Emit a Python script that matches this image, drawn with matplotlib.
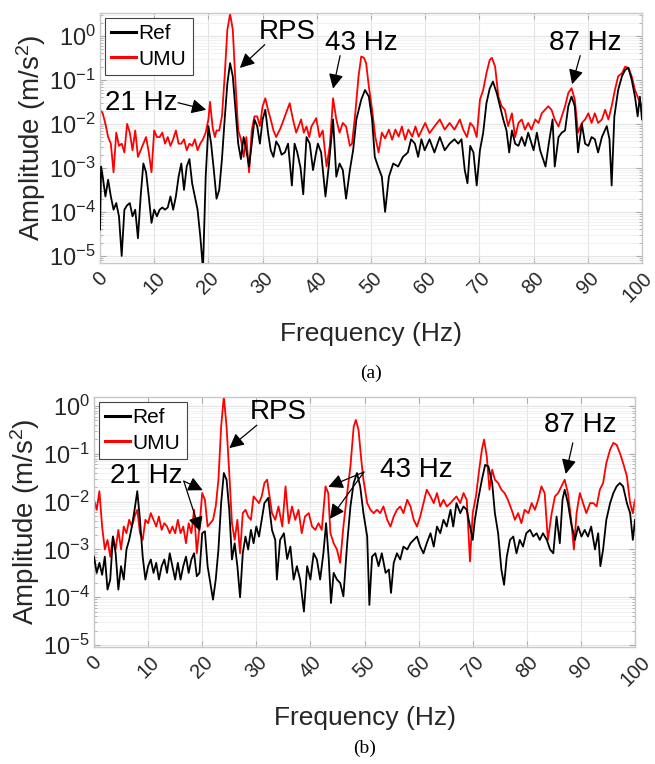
import matplotlib
matplotlib.use("Agg")
import matplotlib.pyplot as plt
import matplotlib.transforms as mtransforms
import numpy as np
from matplotlib.ticker import LogLocator, LogFormatterMathtext, NullFormatter

plt.rcParams['font.family'] = ['Liberation Sans', 'DejaVu Sans']
plt.rcParams['mathtext.fontset'] = 'custom'
plt.rcParams['mathtext.rm'] = 'Liberation Sans'
plt.rcParams['mathtext.it'] = 'Liberation Sans:italic'

# ---------------- (a) ----------------
a_ref_f = [0, 0.2, 0.5, 1, 1.5, 2, 2.5, 3, 3.5, 4, 4.5, 5, 5.5, 6, 6.5, 7, 7.5, 8, 8.5, 9, 9.5, 10, 10.5, 11, 11.5, 12, 12.5, 13, 13.5, 14, 14.5, 15, 15.5, 16, 16.5, 17, 17.5, 18, 18.5, 19, 19.5, 20, 20.5, 21, 21.5, 22, 22.5, 23, 23.5, 24, 24.5, 25, 25.5, 26, 26.5, 27, 27.5, 28, 28.5, 29, 29.5, 30, 30.5, 31, 31.5, 32, 32.5, 33, 33.5, 34.1, 34.7, 35.4, 35.9, 36.4, 37.0, 37.5, 38.1, 38.7, 39.3, 39.8, 40.2, 40.8, 41.6, 42.2, 43.0, 43.6, 44.2, 44.8, 45.4, 46.1, 46.7, 47.3, 48.2, 48.9, 49.6, 50.2, 50.7, 51.3, 52.0, 52.6, 53.3, 54.1, 55.0, 55.9, 56.8, 57.4, 58.1, 58.7, 59.3, 59.9, 60.8, 61.7, 62.7, 63.6, 64.5, 65.4, 66.1, 66.7, 67.3, 67.8, 68.3, 68.9, 69.5, 70.1, 70.7, 71.3, 71.9, 72.5, 73.2, 73.8, 74.4, 75.0, 75.5, 76.0, 76.6, 77.2, 77.8, 78.4, 79.0, 79.5, 80.0, 80.6, 81.2, 81.6, 82.2, 82.8, 83.5, 83.9, 84.6, 85.2, 85.8, 86.4, 87.0, 87.6, 88.2, 88.9, 89.5, 90.1, 90.7, 91.3, 91.9, 92.6, 93.5, 94.0, 94.4, 94.9, 95.6, 96.3, 96.9, 97.5, 98.1, 98.7, 99.2, 99.6, 100]
a_ref_log = [-4.4, -2.97, -3.2, -3.65, -3.27, -3.65, -3.95, -3.8, -4.1, -5.0, -3.95, -3.85, -3.8, -4.1, -3.95, -4.6, -3.65, -2.9, -3.1, -3.65, -4.25, -3.95, -4.1, -3.95, -3.9, -3.95, -3.9, -3.65, -3.95, -3.65, -3.2, -2.9, -3.5, -2.97, -2.8, -3.35, -3.65, -3.95, -4.55, -5.3, -3.2, -2.05, -2.45, -3.05, -3.7, -3.5, -2.8, -1.9, -1.08, -0.62, -0.92, -1.68, -2.45, -2.8, -2.3, -2.6, -2.97, -2.45, -1.9, -2.05, -2.45, -1.9, -1.68, -2.2, -2.6, -2.75, -2.4, -2.5, -2.7, -2.65, -2.45, -3.4, -2.45, -2.65, -3.0, -3.6, -2.3, -2.45, -3.05, -2.7, -2.45, -2.65, -3.65, -2.97, -1.9, -3.2, -2.9, -3.05, -3.7, -3.05, -2.6, -1.9, -1.45, -1.23, -1.38, -1.9, -2.75, -2.97, -3.2, -4.0, -3.2, -2.9, -2.97, -2.75, -2.65, -2.35, -2.45, -2.75, -2.35, -2.6, -2.35, -2.65, -2.3, -2.6, -2.45, -2.35, -2.45, -2.35, -3.05, -3.35, -2.5, -2.65, -3.4, -2.6, -2.2, -1.53, -1.2, -1.04, -1.3, -1.6, -1.9, -2.15, -2.65, -2.15, -2.45, -2.5, -2.3, -2.5, -2.2, -2.4, -2.6, -2.2, -2.6, -2.75, -2.97, -2.45, -1.9, -2.97, -2.3, -2.2, -2.15, -1.6, -1.38, -1.6, -2.65, -2.0, -2.45, -2.5, -2.3, -2.35, -2.65, -2.3, -2.05, -2.35, -3.4, -1.83, -1.23, -0.92, -0.77, -0.73, -1.0, -1.38, -1.83, -1.38, -1.9]

a_umu_f = [0, 0.5, 1, 1.5, 2, 2.5, 3, 3.5, 4, 4.5, 5, 5.5, 6, 6.5, 7, 7.5, 8, 8.5, 9, 9.5, 10, 10.5, 11, 11.5, 12, 12.5, 13, 13.5, 14, 14.5, 15, 15.5, 16, 16.5, 17, 17.5, 18, 18.5, 19, 19.5, 20, 20.3, 20.8, 21.2, 21.5, 22, 22.5, 23, 23.5, 24, 24.5, 25, 25.5, 26, 26.5, 27, 27.5, 28, 28.5, 29, 29.5, 30, 30.5, 31, 31.5, 32, 32.5, 33.3, 34.1, 35.0, 35.6, 36.2, 37.1, 37.6, 38.1, 38.6, 39.0, 39.9, 40.5, 41.1, 41.8, 42.4, 43.0, 43.6, 44.2, 44.8, 45.4, 46.1, 46.5, 47.1, 47.7, 48.2, 48.7, 49.1, 49.6, 50.2, 50.8, 51.4, 52.0, 52.6, 53.3, 53.9, 54.5, 55.1, 55.7, 56.3, 56.9, 57.6, 58.2, 58.8, 59.4, 60.0, 60.8, 61.7, 62.7, 63.6, 64.5, 65.4, 66.4, 67.0, 67.7, 68.3, 68.9, 69.5, 70.1, 70.7, 71.3, 71.9, 72.3, 72.9, 73.5, 74.1, 74.7, 75.3, 76.0, 76.6, 77.2, 77.8, 78.4, 79.0, 79.6, 80.3, 80.9, 81.5, 82.1, 82.7, 83.3, 83.9, 84.6, 85.2, 85.8, 86.4, 87.0, 87.6, 88.2, 88.9, 89.5, 90.1, 90.7, 91.3, 91.9, 92.6, 93.2, 93.8, 94.4, 95.0, 95.6, 96.3, 96.9, 97.5, 98.1, 98.7, 99.4, 100]
a_umu_log = [-1.68, -1.76, -2.0, -2.3, -2.45, -3.1, -2.2, -2.5, -2.45, -2.65, -2.0, -2.2, -2.6, -2.15, -2.75, -2.6, -2.45, -2.3, -2.65, -3.1, -2.15, -2.3, -2.3, -2.2, -2.45, -2.3, -2.5, -2.35, -2.15, -2.45, -2.45, -2.35, -2.6, -2.45, -2.5, -2.35, -2.6, -2.45, -2.35, -2.2, -1.9, -1.5, -2.1, -2.3, -2.15, -2.15, -1.83, -0.92, 0.14, 0.5, 0.14, -1.08, -2.15, -2.35, -2.75, -2.3, -3.1, -2.15, -1.83, -1.83, -2.05, -1.6, -1.42, -1.68, -1.9, -2.15, -2.3, -2.1, -1.83, -1.53, -1.9, -2.2, -1.9, -2.2, -2.06, -2.3, -2.06, -1.87, -2.3, -2.15, -2.97, -2.5, -1.42, -1.9, -2.2, -1.98, -2.06, -2.5, -2.45, -1.76, -0.92, -0.47, -0.5, -0.62, -1.15, -1.68, -2.3, -2.65, -2.2, -2.33, -2.13, -2.36, -2.13, -2.29, -2.06, -2.36, -2.13, -2.29, -2.06, -2.29, -2.13, -1.98, -2.21, -2.06, -1.9, -2.13, -1.98, -2.13, -1.9, -2.13, -2.3, -1.98, -2.06, -2.3, -1.45, -1.23, -0.85, -0.55, -0.5, -0.7, -1.38, -1.6, -1.68, -2.05, -1.76, -2.3, -1.98, -1.9, -2.13, -1.98, -2.13, -1.9, -1.98, -1.76, -1.68, -1.6, -1.68, -1.9, -2.06, -1.83, -1.6, -1.3, -1.19, -1.45, -2.2, -1.98, -1.9, -1.76, -1.98, -1.76, -1.98, -1.9, -1.68, -1.9, -1.6, -1.23, -0.92, -0.85, -0.7, -0.73, -0.92, -1.23, -1.45, -1.6]

# ---------------- (b) ----------------
b_ref_f = [0, 0.5, 1, 1.5, 2, 2.5, 3, 3.5, 4, 4.5, 5, 5.5, 6, 6.5, 7, 7.5, 8, 8.5, 9, 9.5, 10, 10.5, 11, 11.5, 12, 12.5, 13, 13.5, 14, 14.5, 15, 15.5, 16, 16.5, 17, 17.5, 18, 18.5, 19, 19.5, 20, 20.5, 21, 21.5, 22, 22.5, 23, 23.5, 24, 24.5, 25, 25.5, 26, 26.5, 27, 27.5, 28, 28.5, 29, 29.5, 30, 30.5, 31, 31.5, 32.2, 32.9, 33.5, 33.8, 34.4, 35.1, 35.7, 36.3, 36.9, 37.5, 38.1, 38.8, 39.4, 40.0, 40.6, 41.2, 41.8, 42.4, 42.9, 43.4, 43.8, 44.3, 44.9, 45.5, 46.1, 46.8, 47.4, 48.0, 48.6, 49.2, 49.8, 50.5, 50.9, 51.4, 52.0, 52.6, 53.2, 53.9, 54.5, 54.9, 55.4, 56.0, 56.6, 57.2, 57.9, 58.5, 59.1, 59.7, 60.3, 60.9, 61.5, 62.2, 62.8, 63.4, 64.0, 64.6, 65.2, 65.9, 66.4, 67.0, 67.7, 68.3, 68.9, 69.5, 70.0, 70.4, 71.0, 71.7, 72.3, 72.9, 73.6, 74.1, 74.7, 75.3, 75.8, 76.3, 76.9, 77.5, 78.1, 78.7, 79.3, 79.9, 80.6, 81.2, 81.8, 82.4, 83.0, 83.7, 84.3, 84.9, 85.5, 86.1, 86.6, 87.0, 87.6, 88.2, 88.9, 89.5, 90.1, 90.7, 91.3, 91.9, 92.6, 93.2, 93.6, 94.1, 94.7, 95.4, 96.0, 96.6, 97.2, 97.8, 98.5, 99.1, 99.6, 100]
b_ref_log = [-3.15, -3.49, -3.28, -3.53, -3.15, -3.84, -3.63, -2.73, -3.08, -3.84, -3.35, -3.63, -3.0, -2.8, -2.52, -2.17, -1.78, -2.38, -3.15, -3.63, -3.35, -3.21, -3.49, -3.28, -3.63, -3.35, -3.21, -3.49, -3.08, -3.35, -3.63, -3.28, -3.63, -3.35, -3.15, -3.49, -3.21, -3.08, -3.56, -3.49, -2.66, -2.62, -3.35, -3.7, -4.05, -3.63, -3.0, -2.03, -1.4, -1.54, -2.17, -3.21, -2.87, -3.35, -4.0, -3.08, -2.73, -3.0, -2.59, -2.87, -2.52, -2.73, -2.38, -2.03, -1.92, -2.59, -2.8, -3.63, -2.8, -2.66, -3.2, -2.94, -3.63, -3.35, -3.63, -4.3, -3.35, -3.63, -3.08, -3.21, -3.63, -3.08, -2.45, -3.21, -4.12, -3.49, -3.63, -3.7, -3.98, -2.87, -2.1, -1.61, -1.4, -1.68, -2.24, -2.73, -4.16, -3.15, -3.08, -3.35, -3.08, -3.49, -3.42, -3.91, -3.28, -3.08, -3.21, -2.94, -3.0, -2.87, -2.8, -2.73, -2.94, -3.08, -2.87, -2.66, -2.94, -2.52, -2.66, -2.38, -2.52, -2.17, -2.52, -2.03, -2.24, -2.1, -2.17, -2.52, -2.8, -2.38, -1.96, -1.54, -1.23, -1.26, -1.61, -2.24, -2.66, -3.42, -3.74, -3.15, -2.8, -2.73, -3.08, -2.8, -2.94, -2.66, -2.59, -2.73, -2.66, -2.8, -2.66, -2.8, -3.0, -3.08, -2.31, -2.87, -1.96, -1.75, -2.03, -2.45, -2.8, -2.52, -2.73, -2.59, -2.73, -2.52, -3.0, -2.66, -3.35, -3.0, -2.38, -2.03, -1.82, -1.68, -1.61, -1.68, -2.03, -2.24, -2.8, -2.38]

b_umu_f = [0, 0.5, 1, 1.5, 2, 2.5, 3, 3.5, 4, 4.5, 5, 5.5, 6, 6.5, 7, 7.5, 8, 8.5, 9, 9.5, 10, 10.5, 11, 11.5, 12, 12.5, 13, 13.5, 14, 14.5, 15, 15.5, 16, 16.5, 17, 17.5, 18, 18.5, 19, 19.5, 20, 20.5, 21, 21.5, 22, 22.5, 23, 23.5, 24, 24.5, 25, 25.5, 26, 26.5, 27, 27.5, 28, 28.5, 29, 29.5, 30, 30.5, 31, 31.5, 32.0, 32.9, 33.5, 34.1, 34.8, 35.4, 36.0, 36.6, 37.2, 37.8, 38.4, 39.0, 39.7, 40.3, 40.9, 41.5, 42.1, 42.8, 43.3, 43.7, 44.3, 44.9, 45.5, 46.1, 46.8, 47.4, 48.0, 48.4, 48.9, 49.4, 49.8, 50.5, 51.1, 51.7, 52.3, 52.9, 53.5, 54.2, 54.8, 55.4, 56.0, 56.6, 57.2, 57.9, 58.5, 59.1, 59.7, 60.3, 60.9, 61.5, 62.2, 62.8, 63.4, 64.0, 64.6, 65.2, 65.9, 66.4, 67.0, 67.7, 68.3, 68.9, 69.5, 70.0, 70.6, 71.2, 71.7, 72.1, 72.6, 73.1, 73.6, 74.1, 74.7, 75.3, 75.9, 76.5, 77.2, 77.8, 78.4, 79.0, 79.6, 80.3, 80.9, 81.5, 82.1, 82.7, 83.3, 83.9, 84.6, 85.2, 85.8, 86.4, 87.0, 87.6, 88.2, 88.7, 89.2, 89.8, 90.4, 91.0, 91.7, 92.3, 92.9, 93.5, 94.1, 94.7, 95.4, 96.0, 96.6, 97.2, 97.8, 98.5, 99.1, 99.6, 100]
b_umu_log = [-1.96, -2.17, -1.78, -2.52, -3.0, -2.8, -3.15, -2.73, -3.0, -2.59, -3.0, -2.52, -2.66, -2.38, -2.52, -2.31, -2.17, -2.66, -2.8, -2.38, -2.45, -2.24, -2.38, -2.52, -2.31, -2.59, -2.45, -2.52, -2.66, -2.52, -2.66, -2.38, -2.66, -2.52, -2.87, -2.45, -2.66, -2.17, -3.08, -2.52, -1.82, -1.96, -2.52, -2.45, -2.38, -2.1, -1.54, -0.43, 0.2, -0.43, -1.4, -2.45, -2.8, -2.38, -3.08, -2.24, -2.17, -2.31, -2.38, -1.89, -1.96, -2.03, -1.89, -1.61, -1.54, -2.24, -2.38, -2.1, -2.52, -1.68, -2.45, -2.1, -2.38, -2.17, -2.66, -2.31, -2.24, -2.52, -2.59, -2.45, -2.59, -1.68, -1.82, -2.66, -2.87, -3.0, -3.28, -2.52, -1.82, -1.26, -0.43, -0.29, -0.5, -1.12, -1.54, -2.03, -2.17, -2.24, -2.17, -2.24, -2.1, -2.38, -2.52, -2.31, -2.17, -2.1, -2.24, -1.96, -2.1, -2.38, -2.52, -2.31, -2.03, -1.75, -1.89, -2.03, -1.82, -2.1, -1.96, -2.1, -2.03, -1.96, -1.89, -2.03, -1.82, -1.96, -3.25, -2.24, -1.89, -1.33, -0.91, -0.7, -1.05, -1.75, -1.33, -1.54, -1.61, -1.75, -1.82, -1.96, -2.17, -2.38, -2.24, -2.45, -2.17, -2.24, -2.03, -2.17, -1.96, -1.68, -1.82, -2.8, -2.24, -1.89, -1.82, -1.68, -1.54, -1.82, -2.38, -3.0, -2.24, -1.82, -2.03, -2.24, -2.03, -2.03, -2.1, -1.75, -1.61, -1.19, -0.91, -0.77, -0.81, -0.98, -1.19, -1.47, -2.03, -2.24, -1.96]

series_labels = ['Ref', 'UMU']
xticks = list(range(0, 101, 10))

W, H = 655, 764
fig = plt.figure(figsize=(W / 100, H / 100), dpi=100)

def px_axes(l, t, r, b):
    return fig.add_axes([l / W, 1 - b / H, (r - l) / W, (b - t) / H])

ax1 = px_axes(100, 13, 642, 263)
ax2 = px_axes(94, 397, 635, 647)

panels = [
    (ax1, a_ref_f, a_ref_log, a_umu_f, a_umu_log, (6.9e-6, 3.3)),
    (ax2, b_ref_f, b_ref_log, b_umu_f, b_umu_log, (9.1e-6, 1.55)),
]

gridc = '#e3e3e3'
for ax, rf, rl, uf, ul, yl in panels:
    ax.plot(rf, 10 ** np.array(rl), color='black', lw=1.3, label=series_labels[0], zorder=3)
    ax.plot(uf, 10 ** np.array(ul), color='#ff0000', lw=1.3, label=series_labels[1], zorder=2)
    ax.set_yscale('log')
    ax.set_xlim(0, 100)
    ax.set_ylim(*yl)
    ax.yaxis.set_major_locator(LogLocator(base=10, numticks=10))
    ax.yaxis.set_major_formatter(LogFormatterMathtext())
    ax.yaxis.set_minor_locator(LogLocator(base=10, subs=np.arange(2, 10), numticks=20))
    ax.yaxis.set_minor_formatter(NullFormatter())
    ax.tick_params(axis='y', which='major', labelsize=17, direction='in', length=4, right=True, color='#aaaaaa', labelcolor='#262626', pad=3)
    ax.tick_params(axis='y', which='minor', direction='in', length=2, right=True, color='#aaaaaa')
    ax.tick_params(axis='x', which='major', direction='in', length=4, top=True, color='#aaaaaa', labelcolor='#262626', pad=4)
    ax.set_xticks(xticks)
    labels = ax.set_xticklabels([str(v) for v in xticks], rotation=45, ha='center', va='top', fontsize=14.5)
    ax.grid(True, which='major', color=gridc, lw=0.8)
    ax.grid(True, which='minor', axis='y', color='#f0f0f0', lw=0.6)
    ax.set_axisbelow(True)
    for s in ax.spines.values():
        s.set_color('#c8c8c8')
        s.set_linewidth(1.0)
    ax.set_ylabel('Amplitude (m/s$^2$)', fontsize=20, color='#262626', labelpad=1)
    ax.set_xlabel('Frequency (Hz)', fontsize=19, color='#262626', labelpad=12)
    leg = ax.legend(loc='upper left', fontsize=15, handlelength=1.2, handletextpad=0.1,
                    borderpad=0.3, labelspacing=0.3, borderaxespad=0.25, fancybox=False,
                    framealpha=1)
    for h in leg.get_lines():
        h.set_linewidth(2.2)
    leg.get_frame().set_edgecolor('#444444')
    leg.get_frame().set_linewidth(0.8)

arrow = dict(arrowstyle='-|>', color='black', lw=0.9, mutation_scale=22, shrinkA=0, shrinkB=0)

def note(ax, text, tpos, tails_tips):
    ax.text(tpos[0], 10 ** tpos[1], text, fontsize=20, ha='center', va='center', zorder=6)
    for tail, tip in tails_tips:
        ax.annotate('', xy=(tip[0], 10 ** tip[1]), xytext=(tail[0], 10 ** tail[1]),
                    arrowprops=arrow, zorder=6)

# (a) annotations
note(ax1, '21 Hz', (7.6, -1.52), [((14.4, -1.52), (19.6, -1.68))])
note(ax1, 'RPS', (34.5, 0.09), [((30.4, -0.2), (25.8, -0.73))])
note(ax1, '43 Hz', (48.2, -0.16), [((44.3, -0.45), (43.0, -1.2))])
note(ax1, '87 Hz', (89.5, -0.16), [((88.6, -0.45), (87.1, -1.1))])

# (b) annotations
note(ax2, 'RPS', (34.0, -0.13), [((30.1, -0.40), (25.0, -0.88))])
note(ax2, '21 Hz', (9.6, -1.46), [((16.6, -1.57), (20.1, -1.76)), ((16.6, -1.57), (19.6, -2.62))])
note(ax2, '43 Hz', (59.5, -1.34), [((49.9, -1.38), (43.3, -1.69)), ((49.9, -1.38), (43.6, -2.36))])
note(ax2, '87 Hz', (89.8, -0.40), [((88.5, -0.77), (87.2, -1.42))])

fig.text(371 / W, 1 - 373 / H, '(a)', fontsize=14, family='Liberation Serif', ha='center', va='center')
fig.text(365 / W, 1 - 748 / H, '(b)', fontsize=14, family='Liberation Serif', ha='center', va='center')

# nudge the "100" label of the upper panel so it stays inside the figure
fig.canvas.draw()
lab = ax1.get_xticklabels()[-1]
lab.set_transform(lab.get_transform() + mtransforms.ScaledTranslation(-5 / 100, 0, fig.dpi_scale_trans))

fig.savefig('out.png', dpi=100)
